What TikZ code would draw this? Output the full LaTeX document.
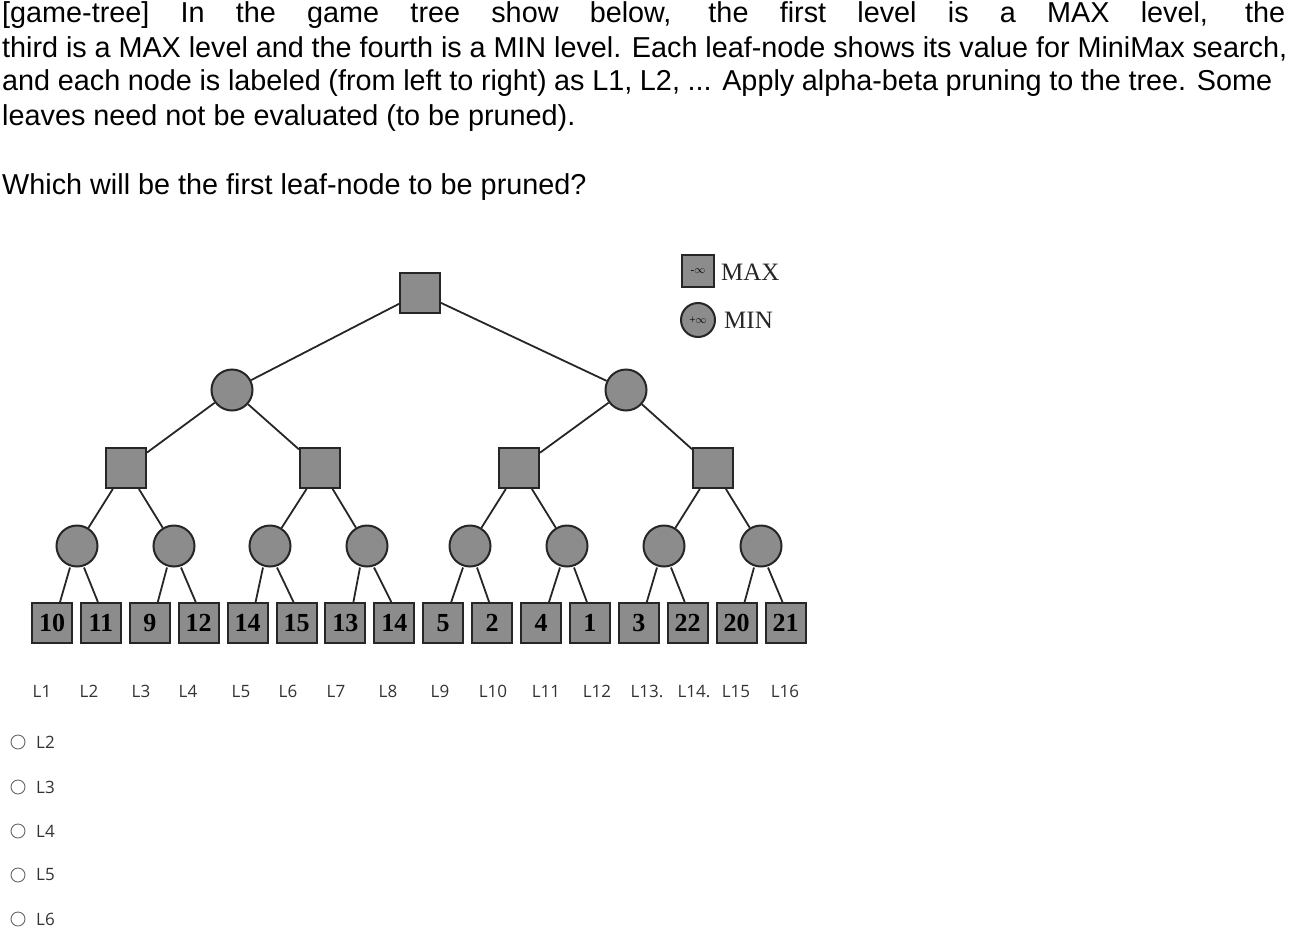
\documentclass[tikz,border=0pt]{standalone}
\usepackage{fontspec}
\setmainfont{Liberation Serif}
\newfontfamily\qfont{Liberation Sans}
\newfontfamily\lfont{Open Sans}
\begin{document}
\begin{tikzpicture}[x=1pt,y=-1pt,
  maxn/.style={draw=black!85,line width=2pt,fill=black!45,minimum size=40pt,inner sep=0pt},
  minn/.style={circle,draw=black!85,line width=2pt,fill=black!45,minimum size=41pt,inner sep=0pt},
  leaf/.style={draw=black!85,line width=2pt,fill=black!45,minimum size=40pt,inner sep=0pt,font=\fontsize{26}{26}\selectfont\bfseries},
  edge/.style={line width=1.8pt,black!85},
  qtext/.style={anchor=west,inner sep=0pt,font=\qfont\fontsize{28.8}{29}\selectfont},
  ltext/.style={inner sep=0pt,font=\lfont\fontsize{17}{17}\selectfont,text=black!80},
  opt/.style={circle,draw=black!60,line width=0.9pt,minimum size=14pt,inner sep=0pt}]
\useasboundingbox (0,0) rectangle (1295,942);
\node[qtext] (q1) at (2,15) {\makebox[1283pt][s]{[game-tree] In the game tree show below, the first level is a MAX level, the}};
\node[qtext] (q2) at (2,49) {\makebox[1285pt][s]{third is a MAX level and the fourth is a MIN level. Each leaf-node shows its value for MiniMax search,}};
\node[qtext] (q3) at (2,83) {\makebox[1270pt][s]{and each node is labeled (from left to right) as L1, L2, ... Apply alpha-beta pruning to the tree. Some}};
\node[qtext] (q4) at (2,118) {leaves need not be evaluated (to be pruned).};
\node[qtext] (q5) at (2,187) {Which will be the first leaf-node to be pruned?};
% tree
\node[maxn] (r) at (420,293) {};
\node[minn] (a1) at (232,390) {};
\node[minn] (a2) at (626,390) {};
\foreach \i/\x in {1/126,2/320,3/519,4/713} \node[maxn] (b\i) at (\x,468) {};
\foreach \i/\x in {1/77,2/174,3/270,4/367,5/470,6/567,7/664,8/761} \node[minn] (c\i) at (\x,546) {};
\foreach \i/\v in {1/10,2/11,3/9,4/12,5/14,6/15,7/13,8/14,9/5,10/2,11/4,12/1,13/3,14/22,15/20,16/21}
  \node[leaf] (l\i) at ({52+48.9*(\i-1)},623) {\v};
\draw[edge] (r) -- (a1); \draw[edge] (r) -- (a2);
\draw[edge] (a1) -- (b1); \draw[edge] (a1) -- (b2);
\draw[edge] (a2) -- (b3); \draw[edge] (a2) -- (b4);
\foreach \b/\p/\q in {1/1/2,2/3/4,3/5/6,4/7/8} {\draw[edge] (b\b) -- (c\p); \draw[edge] (b\b) -- (c\q);}
\foreach \c/\p/\q in {1/1/2,2/3/4,3/5/6,4/7/8,5/9/10,6/11/12,7/13/14,8/15/16} {
  \draw[edge] ([xshift=-7pt]c\c.south) -- ([xshift=8pt]l\p.north);
  \draw[edge] ([xshift=7pt]c\c.south) -- ([xshift=-3pt]l\q.north);}
\foreach \i/\x/\t in {1/42/L1,2/89/L2,3/141/L3,4/188/L4,5/241/L5,6/288/L6,7/336/L7,8/388/L8,9/440/L9,10/493/L10,11/546/L11,12/597/L12,13/647/L13.,14/694/L14.,15/736/L15,16/785/L16}
  \node[ltext,anchor=base] (t\i) at (\x,697) {\t};
% legend
\node[maxn,minimum size=32pt,font=\fontsize{11}{11}\selectfont] (kmax) at (698,271) {-$\infty$};
\node[minn,minimum size=34pt,font=\fontsize{11}{11}\selectfont] (kmin) at (698,320) {+$\infty$};
\node[anchor=west,inner sep=0pt,font=\fontsize{25}{25}\selectfont,text=black!85] (kt1) at (721,272) {MAX};
\node[anchor=west,inner sep=0pt,font=\fontsize{25}{25}\selectfont,text=black!85] (kt2) at (724,320) {MIN};
% options
\foreach \i/\y/\t in {1/742/L2,2/787/L3,3/831/L4,4/875/L5,5/919/L6} {
  \node[opt] (o\i) at (18,\y) {};
  \node[ltext,anchor=west] (ot\i) at (36,\y) {\t};}
\end{tikzpicture}
\end{document}
